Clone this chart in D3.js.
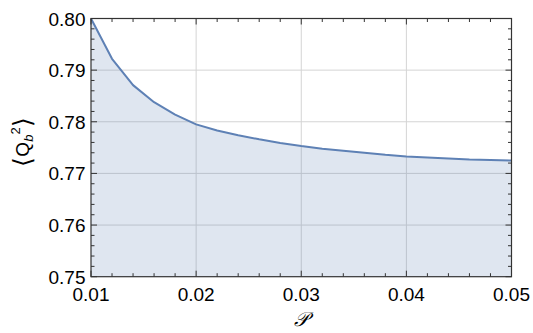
<!DOCTYPE html>
<html>
<head>
<meta charset="utf-8">
<script src="https://cdn.jsdelivr.net/npm/d3@7/dist/d3.min.js"></script>
<style>
  html, body { margin: 0; padding: 0; background: #fff; }
  svg text { font-family: "Liberation Sans", Arial, sans-serif; fill: #000; }
</style>
</head>
<body>
<svg id="chart" width="533" height="333"></svg>
<script>
// Mean squared charge vs. P
const pValues = [0.010, 0.012, 0.014, 0.016, 0.018, 0.020, 0.022, 0.024, 0.026, 0.028,
                 0.030, 0.032, 0.034, 0.036, 0.038, 0.040, 0.042, 0.044, 0.046, 0.048, 0.050];
const q2Values = [0.8000, 0.7922, 0.7871, 0.7838, 0.7814, 0.7795, 0.7783, 0.7774, 0.7766, 0.7759,
                  0.7753, 0.7748, 0.7744, 0.7740, 0.7736, 0.7733, 0.7731, 0.7729, 0.7727, 0.7726, 0.7725];
const xTicks = [0.01, 0.02, 0.03, 0.04, 0.05];
const yTicks = [0.75, 0.76, 0.77, 0.78, 0.79, 0.80];
const xTickLabels = ["0.01", "0.02", "0.03", "0.04", "0.05"];
const yTickLabels = ["0.75", "0.76", "0.77", "0.78", "0.79", "0.80"];

const data = pValues.map((p, i) => ({ p, q: q2Values[i] }));

const svg = d3.select("#chart");
const plotLeft = 91, plotRight = 511.5, plotTop = 18.5, plotBottom = 276.7;

const x = d3.scaleLinear().domain([0.01, 0.05]).range([plotLeft, plotRight]);
const y = d3.scaleLinear().domain([0.75, 0.80]).range([plotBottom, plotTop]);

const lineColor = "#5e81b5";
const frameColor = "#333";

// grid lines
const grid = svg.append("g");
grid.selectAll(null).data(xTicks.slice(1, -1)).join("line")
  .attr("x1", d => x(d)).attr("x2", d => x(d))
  .attr("y1", plotTop).attr("y2", plotBottom)
  .attr("stroke", "#d4d4d4").attr("stroke-width", 1);
grid.selectAll(null).data(yTicks.slice(1, -1)).join("line")
  .attr("y1", d => y(d)).attr("y2", d => y(d))
  .attr("x1", plotLeft).attr("x2", plotRight)
  .attr("stroke", "#d4d4d4").attr("stroke-width", 1);

// filled area under curve
const area = d3.area().x(d => x(d.p)).y0(y(0.75)).y1(d => y(d.q));
svg.append("path").datum(data)
  .attr("d", area)
  .attr("fill", lineColor).attr("fill-opacity", 0.2);

// curve
const line = d3.line().x(d => x(d.p)).y(d => y(d.q));
svg.append("path").datum(data)
  .attr("d", line)
  .attr("fill", "none").attr("stroke", lineColor)
  .attr("stroke-width", 2).attr("stroke-linejoin", "round");

// frame with inward ticks on all four sides
const isMajorX = v => xTicks.some(t => Math.abs(t - v) < 1e-9);
const isMajorY = v => yTicks.some(t => Math.abs(t - v) < 1e-9);
const frame = svg.append("g");

function drawTicks(values, horizontal, pos, dir, len) {
  frame.selectAll(null).data(values).join("line")
    .attr("x1", d => horizontal ? x(d) : pos)
    .attr("x2", d => horizontal ? x(d) : pos + dir * len)
    .attr("y1", d => horizontal ? pos : y(d))
    .attr("y2", d => horizontal ? pos + dir * len : y(d))
    .attr("stroke", frameColor).attr("stroke-width", 1);
}
const xMinor = d3.range(1, 20).map(i => +(0.01 + i * 0.002).toFixed(4)).filter(v => !isMajorX(v));
const yMinor = d3.range(1, 25).map(i => +(0.75 + i * 0.002).toFixed(4)).filter(v => !isMajorY(v));
drawTicks(xTicks, true, plotBottom, -1, 6);
drawTicks(xMinor, true, plotBottom, -1, 3.5);
drawTicks(xTicks, true, plotTop, 1, 6);
drawTicks(xMinor, true, plotTop, 1, 3.5);
drawTicks(yTicks, false, plotLeft, 1, 6);
drawTicks(yMinor, false, plotLeft, 1, 3.5);
drawTicks(yTicks, false, plotRight, -1, 6);
drawTicks(yMinor, false, plotRight, -1, 3.5);

frame.append("rect")
  .attr("x", plotLeft).attr("y", plotTop)
  .attr("width", plotRight - plotLeft).attr("height", plotBottom - plotTop)
  .attr("fill", "none").attr("stroke", frameColor).attr("stroke-width", 1.2);

// tick labels
svg.append("g").selectAll("text").data(xTicks).join("text")
  .attr("x", d => x(d)).attr("y", 300.5)
  .attr("text-anchor", "middle").attr("font-size", 19)
  .text((d, i) => xTickLabels[i]);
svg.append("g").selectAll("text").data(yTicks).join("text")
  .attr("x", 85.5).attr("y", d => y(d) + 7)
  .attr("text-anchor", "end").attr("font-size", 19)
  .text((d, i) => yTickLabels[i]);

// axis titles
svg.append("text")
  .attr("x", x(0.03)).attr("y", 326)
  .attr("text-anchor", "middle").attr("font-size", 20)
  .style("font-family", "'DejaVu Serif', 'DejaVu Sans', serif")
  .style("font-style", "italic")
  .text("\u{1D4AB}");

const yTitle = svg.append("text")
  .attr("transform", "translate(29,142) rotate(-90)")
  .attr("text-anchor", "middle").attr("font-size", 19);
yTitle.append("tspan").attr("font-size", 25).attr("dy", 2).text("\u27E8");
yTitle.append("tspan").attr("dy", -2).text("Q");
yTitle.append("tspan").attr("font-size", 13).attr("font-style", "italic").attr("dy", 4).text("b");
yTitle.append("tspan").attr("font-size", 13).attr("dy", -13).text("2");
yTitle.append("tspan").attr("font-size", 25).attr("dy", 11).text("\u27E9");
</script>
</body>
</html>
